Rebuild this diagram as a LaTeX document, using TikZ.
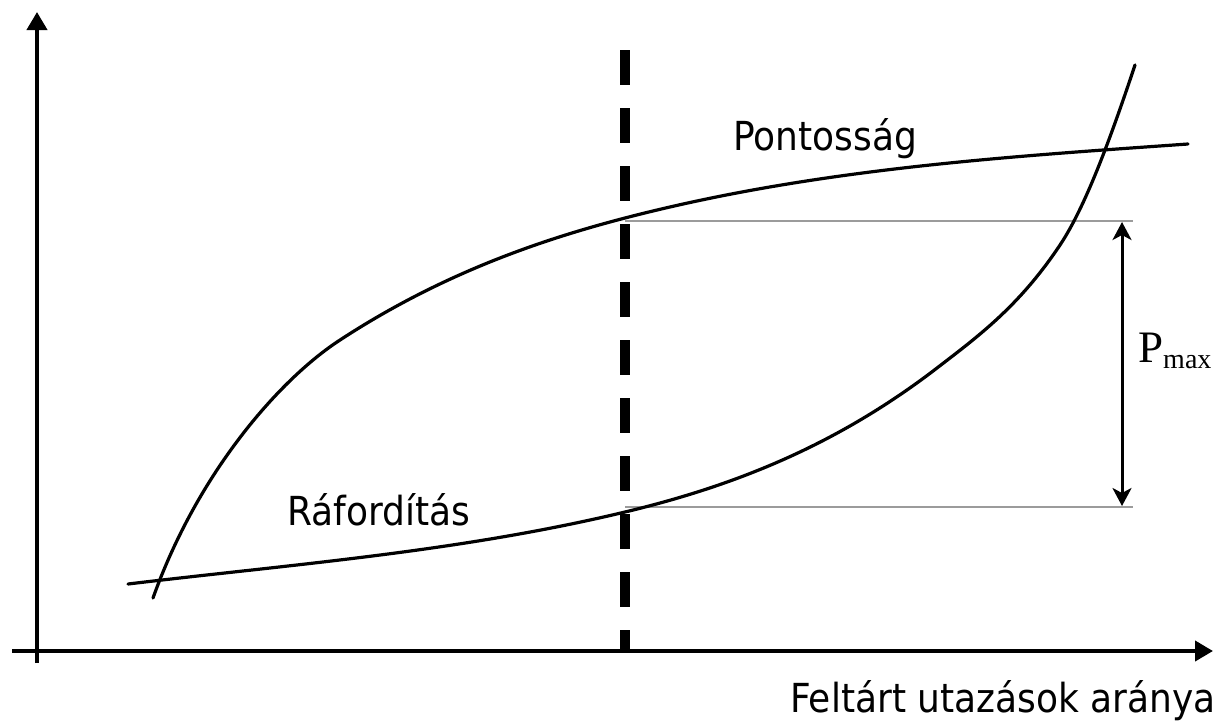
\documentclass[tikz,border=0pt]{standalone}
\usepackage{fontspec}
\newfontfamily\labfont[FakeStretch=0.9]{DejaVu Sans}
\newfontfamily\serfont{Liberation Serif}
\usetikzlibrary{arrows.meta}
\definecolor{guidegray}{RGB}{155,155,155}
\begin{document}
\begin{tikzpicture}[x=1pt,y=-1pt,
  curve/.style={line width=3.2pt, line join=round, line cap=round},
  axisline/.style={line width=4pt},
  guide/.style={line width=1.5pt, draw=guidegray},
  lab/.style={font=\labfont\fontsize{40}{48}\selectfont, inner sep=0pt, anchor=base west},
  axtip/.style={-{Triangle[length=18pt,width=20pt]}},
  dbl/.style={line width=3pt, {Stealth[length=18pt,width=19pt,inset=5pt]}-{Stealth[length=18pt,width=19pt,inset=5pt]}},
]
\useasboundingbox (0,0) rectangle (1231,724);
\fill[white] (0,0) rectangle (1231,724);

% axes
\coordinate (yb) at (37,663);
\coordinate (yt) at (37,12);
\coordinate (xl) at (12,651);
\coordinate (xr) at (1213,651);
\draw[axisline,axtip] (yb) -- (yt);
\draw[axisline,axtip] (xl) -- (xr);

% vertical dashed line
\coordinate (dt) at (625,50);
\coordinate (db) at (625,652);
\draw[line width=10pt, dash pattern=on 35pt off 23pt] (dt) -- (db);

% guides
\coordinate (g1a) at (625,221);
\coordinate (g1b) at (1133,221);
\coordinate (g2a) at (625,507);
\coordinate (g2b) at (1133,507);
\draw[guide] (g1a) -- (g1b);
\draw[guide] (g2a) -- (g2b);

% double arrow
\coordinate (at) at (1122,222);
\coordinate (ab) at (1122,506);
\draw[dbl] (at) -- (ab);

% Pontossag curve
\coordinate (p0) at (153,598);
\coordinate (p1) at (340,340);
\coordinate (p2) at (625,218);
\coordinate (p3) at (1188,144);
\draw[curve] (p0) .. controls (198,472) and (280,379) .. (p1)
  .. controls (435,278) and (530,242.7) .. (p2)
  .. controls (813,169.1) and (1000,157.2) .. (p3);

% Raforditas curve
\coordinate (r0) at (128,584);
\coordinate (r1) at (625,512);
\coordinate (r2) at (937,368);
\coordinate (r3) at (1060,245);
\coordinate (r4) at (1135,65);
\draw[curve] (r0) .. controls (294,564.1) and (459,551.8) .. (r1)
  .. controls (729,487) and (833,448) .. (r2)
  .. controls (978,336.4) and (1019,306.5) .. (r3)
  .. controls (1085,207.5) and (1110,140) .. (r4);

% labels
\node[lab] (pont) at (733,150) {Pontosság};
\node[lab] (rafo) at (287,525) {Ráfordítás};
\node[lab] (xlab) at (790,712) {Feltárt utazások aránya};
\node[inner sep=0pt, anchor=base west] (pmax) at (1138,362)
  {\serfont\fontsize{45}{50}\selectfont P\raisebox{-6pt}{\fontsize{28}{30}\selectfont max}};
\end{tikzpicture}
\end{document}
